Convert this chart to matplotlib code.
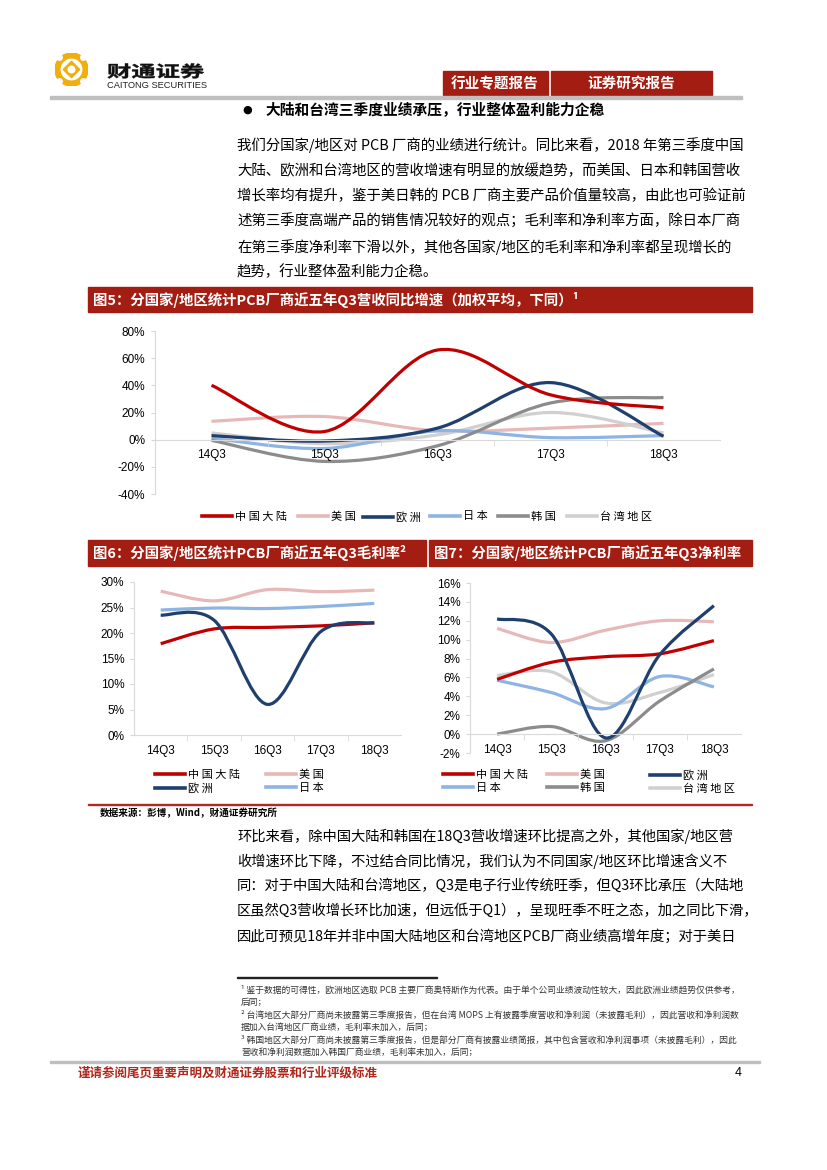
import matplotlib
matplotlib.use("Agg")
import matplotlib.pyplot as plt
from matplotlib.path import Path
from matplotlib.patches import PathPatch, Rectangle, Circle, Polygon
from matplotlib.lines import Line2D
from matplotlib.textpath import TextPath
from matplotlib.font_manager import FontProperties
from matplotlib.transforms import Affine2D
from matplotlib.ticker import FixedLocator, PercentFormatter

CJK = ["Noto Sans CJK SC", "DejaVu Sans"]
plt.rcParams["font.family"] = CJK
plt.rcParams["axes.unicode_minus"] = False

# ---- data ----
quarters = ["14Q3", "15Q3", "16Q3", "17Q3", "18Q3"]
regions = ["中国大陆", "美国", "欧洲", "日本", "韩国", "台湾地区"]
colors = ["#C00000", "#E6B9B8", "#1F3F6E", "#8DB4E2", "#8C8C8C", "#D0D0D0"]

# fig5: revenue growth yoy (%)
rev_cn = [40, 6, 66, 33, 23.5]
rev_us = [13.5, 17, 6.5, 8.5, 12]
rev_eu = [3, -1, 8.5, 42, 2.5]
rev_jp = [1, -6.5, 6.5, 1.5, 3]
rev_kr = [-0.5, -16, -4.5, 27, 31]
rev_tw = [5, -3, 3.5, 20, 5]

# fig6: gross margin (%)
gm_cn = [17.9, 20.8, 21.1, 21.4, 22.0]
gm_us = [28.2, 26.3, 28.5, 28.1, 28.4]
gm_eu = [23.5, 22.5, 6.0, 20.3, 22.0]
gm_jp = [24.5, 24.9, 24.8, 25.2, 25.8]

# fig7: net margin (%)
nm_cn = [5.8, 7.6, 8.2, 8.5, 9.9]
nm_us = [11.2, 9.7, 11.0, 12.0, 11.9]
nm_eu = [12.2, 10.6, -0.4, 8.4, 13.6]
nm_jp = [5.7, 4.4, 2.7, 6.1, 5.0]
nm_kr = [0.0, 0.8, -0.7, 3.5, 6.9]
nm_tw = [6.2, 6.6, 3.3, 4.4, 6.3]

W, H = 827, 1170
RED = "#A31D12"
GOLD = "#F2AE0C"
fig = plt.figure(figsize=(W / 100, H / 100), dpi=100)


def fx(x):
    return x / W


def fy(y):
    return 1 - y / H


def txt(x, y, s, size, **kw):
    kw.setdefault("va", "center")
    fig.text(fx(x), fy(y), s, fontsize=size, family=CJK, **kw)


def box(x0, y0, x1, y1, color, **kw):
    fig.patches.append(Rectangle((fx(x0), fy(y1)), (x1 - x0) / W, (y1 - y0) / H,
                                 transform=fig.transFigure, color=color, **kw))


def smoothLine(ax, vals, color):
    # excel-like smoothed line: cubic bezier segments through the points
    n = len(vals)
    pts = list(zip(range(n), vals))
    verts = [pts[0]]
    codes = [Path.MOVETO]
    for i in range(n - 1):
        p0 = pts[max(i - 1, 0)]
        p1 = pts[i]
        p2 = pts[i + 1]
        p3 = pts[min(i + 2, n - 1)]
        c1 = (p1[0] + (p2[0] - p0[0]) / 6, p1[1] + (p2[1] - p0[1]) / 6)
        c2 = (p2[0] - (p3[0] - p1[0]) / 6, p2[1] - (p3[1] - p1[1]) / 6)
        verts += [c1, c2, p2]
        codes += [Path.CURVE4] * 3
    ax.add_patch(PathPatch(Path(verts, codes), fill=False, edgecolor=color,
                           lw=2.3, capstyle="butt", joinstyle="round"))


def makeAxes(left, right, top, bottom, ymin, ymax, step, series):
    ax = fig.add_axes([fx(left), fy(bottom), (right - left) / W, (bottom - top) / H])
    for vals, c in series:
        smoothLine(ax, vals, c)
    ax.set_xlim(-0.5, len(quarters) - 0.5)
    ax.set_ylim(ymin, ymax)
    for s in ["top", "right"]:
        ax.spines[s].set_visible(False)
    ax.spines["left"].set_color("#D9D9D9")
    ax.spines["bottom"].set_color("#D9D9D9")
    ax.spines["bottom"].set_position(("data", 0))
    ax.set_xticks(range(len(quarters)))
    ax.set_xticklabels(quarters, family="Liberation Sans", fontsize=8.5)
    ax.xaxis.set_minor_locator(FixedLocator([i + 0.5 for i in range(len(quarters) - 1)]))
    ax.tick_params(axis="x", which="major", length=0, pad=7)
    ax.tick_params(axis="x", which="minor", length=4, color="#D9D9D9")
    ax.set_yticks([ymin + step * k for k in range(int(round((ymax - ymin) / step)) + 1)])
    ax.yaxis.set_major_formatter(PercentFormatter(decimals=0))
    ax.tick_params(axis="y", length=3, color="#D9D9D9", labelsize=8.5, pad=4)
    for lab in ax.get_yticklabels():
        lab.set_family("Liberation Sans")
    ax.patch.set_alpha(0)
    return ax


def addLegend(columns, ytop):
    # one small legend per column so the columns sit where the original has them
    for x, idx in columns:
        handles = [Line2D([], [], color=colors[i], lw=2.6) for i in idx]
        labels = [" ".join(regions[i]) for i in idx]
        fig.legend(handles, labels, loc="upper left", bbox_to_anchor=(fx(x), fy(ytop)),
                   frameon=False, borderpad=0, borderaxespad=0, handlelength=2.7,
                   handletextpad=0.25, labelspacing=0.28,
                   prop={"family": CJK, "size": 8})


# ---- header ----
logo = fig.add_axes([fx(55), fy(86), 33 / W, 33 / H])
logo.set_xlim(-1, 1)
logo.set_ylim(-1, 1)
logo.axis("off")
logo.add_patch(Circle((0, 0), 1.0, color=GOLD))
logo.add_patch(Circle((0, 0), 0.62, color="white"))
for a, b in [(0.72, 0.72), (-0.72, 0.72), (0.72, -0.72), (-0.72, -0.72)]:
    logo.add_patch(Circle((a, b), 0.16, color="white"))
logo.add_patch(Polygon([(0, 0.5), (0.5, 0), (0, -0.5), (-0.5, 0)], color=GOLD))
logo.add_patch(Circle((0, 0), 0.2, color="white"))

brand = TextPath((0, 0), "财通证券", size=16, prop=FontProperties(family=CJK, weight="bold"))
fig.add_artist(PathPatch(brand, color="#111111", lw=0.3,
                         transform=Affine2D().scale(1.52, 1.0).translate(107, H - 77)))
fig.text(fx(107), fy(86), "CAITONG SECURITIES", fontsize=6.7, family="Liberation Sans",
         va="center", color="#222222")
box(443, 71, 548, 95, RED)
box(551, 71, 712, 95, RED)
txt(495, 83, "行业专题报告", 10.5, color="white", weight="bold", ha="center")
txt(631, 83, "证券研究报告", 10.5, color="white", weight="bold", ha="center")
box(50, 96, 742, 98.5, "#BFBFBF")

# ---- text block 1 ----
fig.text(fx(242), fy(110), "●", fontsize=8, va="center", family="DejaVu Sans")
txt(265, 110, "大陆和台湾三季度业绩承压，行业整体盈利能力企稳", 10.6, weight="bold")
para1 = [
    "我们分国家/地区对 PCB 厂商的业绩进行统计。同比来看，2018 年第三季度中国",
    "大陆、欧洲和台湾地区的营收增速有明显的放缓趋势，而美国、日本和韩国营收",
    "增长率均有提升，鉴于美日韩的 PCB 厂商主要产品价值量较高，由此也可验证前",
    "述第三季度高端产品的销售情况较好的观点；毛利率和净利率方面，除日本厂商",
    "在第三季度净利率下滑以外，其他各国家/地区的毛利率和净利率都呈现增长的",
    "趋势，行业整体盈利能力企稳。",
]
for k, line in enumerate(para1):
    txt(237, 145 + 25.4 * k, line, 10.4)

# ---- figure 5 ----
box(88, 287, 752, 312, RED)
txt(93, 299.5, "图5：分国家/地区统计PCB厂商近五年Q3营收同比增速（加权平均，下同）¹", 10.4,
    color="white", weight="bold")
ax5 = makeAxes(155, 720, 331, 494, -40, 80, 20,
               [(rev_us, colors[1]), (rev_tw, colors[5]), (rev_jp, colors[3]),
                (rev_kr, colors[4]), (rev_eu, colors[2]), (rev_cn, colors[0])])
addLegend([(202, [0]), (298, [1]), (363, [2]), (430, [3]), (498, [4]), (567, [5])], 511.5)

# ---- figure 6 / 7 ----
box(88, 540, 426, 566, RED)
box(429, 540, 752, 566, RED)
txt(93, 553, "图6：分国家/地区统计PCB厂商近五年Q3毛利率²", 10.4, color="white", weight="bold")
txt(434, 553, "图7：分国家/地区统计PCB厂商近五年Q3净利率", 10.4, color="white", weight="bold")

ax6 = makeAxes(134, 401, 582, 735, 0, 30, 5,
               [(gm_us, colors[1]), (gm_jp, colors[3]), (gm_cn, colors[0]), (gm_eu, colors[2])])
addLegend([(155, [0, 2]), (266, [1, 3])], 769.5)

ax7 = makeAxes(470, 741, 583, 753, -2, 16, 2,
               [(nm_us, colors[1]), (nm_tw, colors[5]), (nm_jp, colors[3]),
                (nm_kr, colors[4]), (nm_cn, colors[0]), (nm_eu, colors[2])])
addLegend([(443, [0, 3]), (547, [1, 4]), (650, [2, 5])], 769.5)

box(88, 803.5, 752, 805, "#B02A20")
txt(100, 813, "数据来源：彭博，Wind，财通证券研究所", 6.9, weight="bold")

# ---- text block 2 ----
para2 = [
    "环比来看，除中国大陆和韩国在18Q3营收增速环比提高之外，其他国家/地区营",
    "收增速环比下降，不过结合同比情况，我们认为不同国家/地区环比增速含义不",
    "同：对于中国大陆和台湾地区，Q3是电子行业传统旺季，但Q3环比承压（大陆地",
    "区虽然Q3营收增长环比加速，但远低于Q1），呈现旺季不旺之态，加之同比下滑，",
    "因此可预见18年并非中国大陆地区和台湾地区PCB厂商业绩高增年度；对于美日",
]
for k, line in enumerate(para2):
    txt(237, 836 + 25 * k, line, 10.3)

# ---- footnotes ----
box(237, 976.5, 437, 977.6, "#222222")
notes = [
    (241, 990, "¹ 鉴于数据的可得性，欧洲地区选取 PCB 主要厂商奥特斯作为代表。由于单个公司业绩波动性较大，因此欧洲业绩趋势仅供参考，"),
    (241, 1002, "后同；"),
    (241, 1015, "² 台湾地区大部分厂商尚未披露第三季度报告，但在台湾 MOPS 上有披露季度营收和净利润（未披露毛利），因此营收和净利润数"),
    (241, 1027, "据加入台湾地区厂商业绩，毛利率未加入，后同；"),
    (241, 1040, "³ 韩国地区大部分厂商尚未披露第三季度报告，但是部分厂商有披露业绩简报，其中包含营收和净利润事项（未披露毛利），因此"),
    (241, 1052, "营收和净利润数据加入韩国厂商业绩，毛利率未加入，后同；"),
]
for x, y, s in notes:
    txt(x, y, s, 6.3, color="#333333")

# ---- footer ----
box(50, 1061, 760, 1063, "#BFBFBF")
txt(78, 1073, "谨请参阅尾页重要声明及财通证券股票和行业评级标准", 9, weight="bold", color="#B0271B")
fig.text(fx(735), fy(1073), "4", fontsize=9, family="Liberation Sans", va="center")

fig.savefig("out.png", dpi=100)
